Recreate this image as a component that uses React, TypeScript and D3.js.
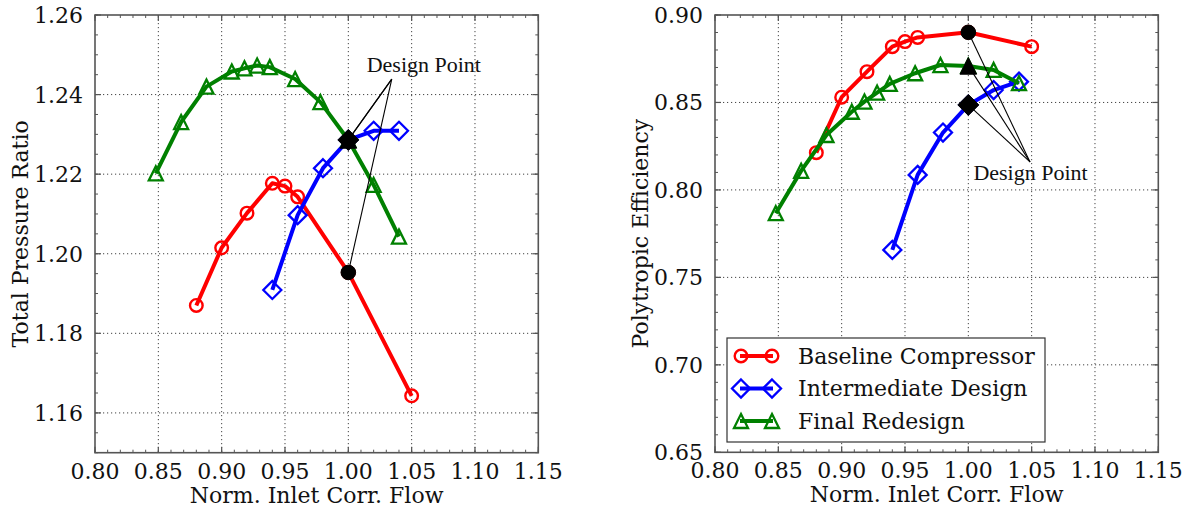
import * as d3 from 'd3'

const baseFlow = [0.88, 0.90, 0.92, 0.94, 0.95, 0.96, 1.00, 1.05]
const basePR = [1.187, 1.2015, 1.2102, 1.2177, 1.217, 1.2143, 1.1953, 1.1643]
const baseEff = [0.8213, 0.853, 0.8676, 0.8819, 0.8848, 0.8872, 0.8901, 0.8819]

const interFlow = [0.94, 0.96, 0.98, 1.00, 1.02, 1.04]
const interPR = [1.1909, 1.2097, 1.2215, 1.2286, 1.2309, 1.2309]
const interEff = [0.7657, 0.8086, 0.8328, 0.8486, 0.8571, 0.8619]

const finalFlow = [0.848, 0.868, 0.888, 0.908, 0.918, 0.928, 0.938, 0.958, 0.978, 1.00, 1.02, 1.04]
const finalPR = [1.2202, 1.2331, 1.242, 1.2458, 1.2466, 1.2473, 1.2469, 1.2439, 1.2381, 1.2286, 1.2173, 1.2043]
const finalEff = [0.7867, 0.8109, 0.8314, 0.8447, 0.8505, 0.8556, 0.8606, 0.8667, 0.8714, 0.8709, 0.8686, 0.861]

const designFlow = 1.0
const xTicks = [0.80, 0.85, 0.90, 0.95, 1.00, 1.05, 1.10, 1.15]
const prTicks = [1.16, 1.18, 1.20, 1.22, 1.24, 1.26]
const effTicks = [0.65, 0.70, 0.75, 0.80, 0.85, 0.90]

const seriesNames = ['Baseline Compressor', 'Intermediate Design', 'Final Redesign']

type Marker = 'circle' | 'diamond' | 'triangle'
type Series = { name: string; color: string; marker: Marker; xs: number[]; ys: number[] }

const FONT = 'DejaVu Serif'

function MarkerShape({ kind, x, y, color, fill }: { kind: Marker; x: number; y: number; color: string; fill: string }) {
  const solid = fill !== 'none'
  if (kind === 'circle') return <circle cx={x} cy={y} r={solid ? 7.3 : 6.3} fill={fill} stroke={color} strokeWidth={solid ? 1 : 2.4} />
  if (kind === 'diamond') {
    const s = solid ? 10.5 : 9
    return <polygon points={`${x},${y - s} ${x + s},${y} ${x},${y + s} ${x - s},${y}`} fill={fill} stroke={color} strokeWidth={solid ? 1 : 2.3} />
  }
  const s = solid ? 8.3 : 7
  return <polygon points={`${x},${y - s} ${x + s},${y + s} ${x - s},${y + s}`} fill={fill} stroke={color} strokeWidth={solid ? 1 : 2.3} strokeLinejoin="miter" />
}

function Panel({ x0, x1, y0, y1, yDomain, yTicks, yMinorStep, yLabel, series, labelX, annot, legend }: {
  x0: number; x1: number; y0: number; y1: number
  yDomain: [number, number]; yTicks: number[]; yMinorStep: number; yLabel: string
  series: Series[]; labelX: number
  annot: { text: [number, number]; from: [number, number]; to: [Series, number][] }
  legend: boolean
}) {
  const x = d3.scaleLinear().domain([0.80, 1.15]).range([x0, x1])
  const y = d3.scaleLinear().domain(yDomain).range([y1, y0])
  const xMinor = d3.range(0.80, 1.1501, 0.01)
  const yMinor = d3.range(yDomain[0], yDomain[1] + 1e-6, yMinorStep)
  const line = d3.line<number>()
  const frame = '#555'

  return (
    <g>
      {/* grid */}
      {xTicks.filter(t => t > 0.801 && t < 1.149).map(t => (
        <line key={'gx' + t} x1={x(t)} x2={x(t)} y1={y0} y2={y1} stroke="#444" strokeWidth={1} strokeDasharray="1.2,2.8" />
      ))}
      {yTicks.filter(t => y(t) > y0 + 1 && y(t) < y1 - 1).map(t => (
        <line key={'gy' + t} x1={x0} x2={x1} y1={y(t)} y2={y(t)} stroke="#444" strokeWidth={1} strokeDasharray="1.2,2.8" />
      ))}
      {/* minor ticks */}
      {xMinor.map((t, i) => (
        <g key={'mx' + i}>
          <line x1={x(t)} x2={x(t)} y1={y1} y2={y1 - 3} stroke={frame} />
          <line x1={x(t)} x2={x(t)} y1={y0} y2={y0 + 3} stroke={frame} />
        </g>
      ))}
      {yMinor.map((t, i) => (
        <g key={'my' + i}>
          <line x1={x0} x2={x0 + 3} y1={y(t)} y2={y(t)} stroke={frame} />
          <line x1={x1} x2={x1 - 3} y1={y(t)} y2={y(t)} stroke={frame} />
        </g>
      ))}
      {/* major ticks + labels */}
      {xTicks.map(t => (
        <g key={'tx' + t}>
          <line x1={x(t)} x2={x(t)} y1={y1} y2={y1 - 6} stroke={frame} strokeWidth={1.2} />
          <line x1={x(t)} x2={x(t)} y1={y0} y2={y0 + 6} stroke={frame} strokeWidth={1.2} />
          <text x={x(t)} y={y1 + 26} textAnchor="middle" fontFamily={FONT} fontSize={22} fill="#111">{t.toFixed(2)}</text>
        </g>
      ))}
      {yTicks.map(t => (
        <g key={'ty' + t}>
          <line x1={x0} x2={x0 + 6} y1={y(t)} y2={y(t)} stroke={frame} strokeWidth={1.2} />
          <line x1={x1} x2={x1 - 6} y1={y(t)} y2={y(t)} stroke={frame} strokeWidth={1.2} />
          <text x={x0 - 12} y={y(t)} dy="0.36em" textAnchor="end" fontFamily={FONT} fontSize={22} fill="#111">{t.toFixed(2)}</text>
        </g>
      ))}
      <rect x={x0} y={y0} width={x1 - x0} height={y1 - y0} fill="none" stroke={frame} strokeWidth={1.6} />

      {/* series */}
      {series.map(s => (
        <g key={s.name}>
          <path d={line(s.xs.map((v, i) => [x(v), y(s.ys[i])]) as any) ?? ''} fill="none" stroke={s.color} strokeWidth={4} strokeLinejoin="round" />
          {s.xs.map((v, i) => (
            <MarkerShape key={i} kind={s.marker} x={x(v)} y={y(s.ys[i])} color={s.color} fill="none" />
          ))}
        </g>
      ))}

      {/* design point annotation */}
      {annot.to.map(([s, i], k) => (
        <MarkerShape key={'d' + k} kind={s.marker} x={x(s.xs[i])} y={y(s.ys[i])} color="#000" fill="#000" />
      ))}
      {annot.to.map(([s, i], k) => (
        <line key={'a' + k} x1={x(annot.from[0])} y1={y(annot.from[1])} x2={x(s.xs[i])} y2={y(s.ys[i])} stroke="#000" strokeWidth={1.1} />
      ))}
      <text x={x(annot.text[0])} y={y(annot.text[1])} fontFamily="Liberation Serif" fontSize={22} fill="#111">Design Point</text>

      {/* axis labels */}
      <text x={(x0 + x1) / 2} y={y1 + 50} textAnchor="middle" fontFamily={FONT} fontSize={22} fill="#111">Norm. Inlet Corr. Flow</text>
      <text transform={`translate(${labelX},${(y0 + y1) / 2}) rotate(-90)`} dy="0.36em" textAnchor="middle" fontFamily={FONT} fontSize={22} fill="#111">{yLabel}</text>

      {legend && (
        <g>
          <rect x={727} y={338} width={318} height={104} fill="#fff" stroke="#333" strokeWidth={1.2} />
          {series.map((s, i) => {
            const cy = 356 + i * 32.5
            return (
              <g key={'l' + s.name}>
                <line x1={740} x2={773} y1={cy} y2={cy} stroke={s.color} strokeWidth={4} />
                <MarkerShape kind={s.marker} x={741} y={cy} color={s.color} fill="none" />
                <MarkerShape kind={s.marker} x={772} y={cy} color={s.color} fill="none" />
                <text x={798} y={cy} dy="0.36em" fontFamily={FONT} fontSize={22} fill="#111">{s.name}</text>
              </g>
            )
          })}
        </g>
      )}
    </g>
  )
}

export default function App() {
  const prSeries: Series[] = [
    { name: seriesNames[0], color: '#ff0000', marker: 'circle', xs: baseFlow, ys: basePR },
    { name: seriesNames[1], color: '#0000ff', marker: 'diamond', xs: interFlow, ys: interPR },
    { name: seriesNames[2], color: '#008000', marker: 'triangle', xs: finalFlow, ys: finalPR },
  ]
  const effSeries: Series[] = [
    { name: seriesNames[0], color: '#ff0000', marker: 'circle', xs: baseFlow, ys: baseEff },
    { name: seriesNames[1], color: '#0000ff', marker: 'diamond', xs: interFlow, ys: interEff },
    { name: seriesNames[2], color: '#008000', marker: 'triangle', xs: finalFlow, ys: finalEff },
  ]
  const di = (s: Series) => s.xs.indexOf(designFlow)

  return (
    <svg width={1195} height={514} style={{ position: 'absolute', left: 0, top: 0, background: '#fff' }}>
      <Panel x0={95} x1={538.3} y0={15} y1={452.7} yDomain={[1.15, 1.26]} yTicks={prTicks} yMinorStep={0.005}
        yLabel="Total Pressure Ratio" series={prSeries} labelX={20}
        annot={{ text: [1.0145, 1.2457], from: [1.0343, 1.2439], to: [[prSeries[0], di(prSeries[0])], [prSeries[2], di(prSeries[2])], [prSeries[1], di(prSeries[1])]] }}
        legend={false} />
      <Panel x0={715} x1={1158.3} y0={15} y1={452.3} yDomain={[0.65, 0.90]} yTicks={effTicks} yMinorStep={0.01}
        yLabel="Polytropic Efficiency" series={effSeries} labelX={640}
        annot={{ text: [1.004, 0.8057], from: [1.0487, 0.816], to: [[effSeries[0], di(effSeries[0])], [effSeries[2], di(effSeries[2])], [effSeries[1], di(effSeries[1])]] }}
        legend={true} />
    </svg>
  )
}
